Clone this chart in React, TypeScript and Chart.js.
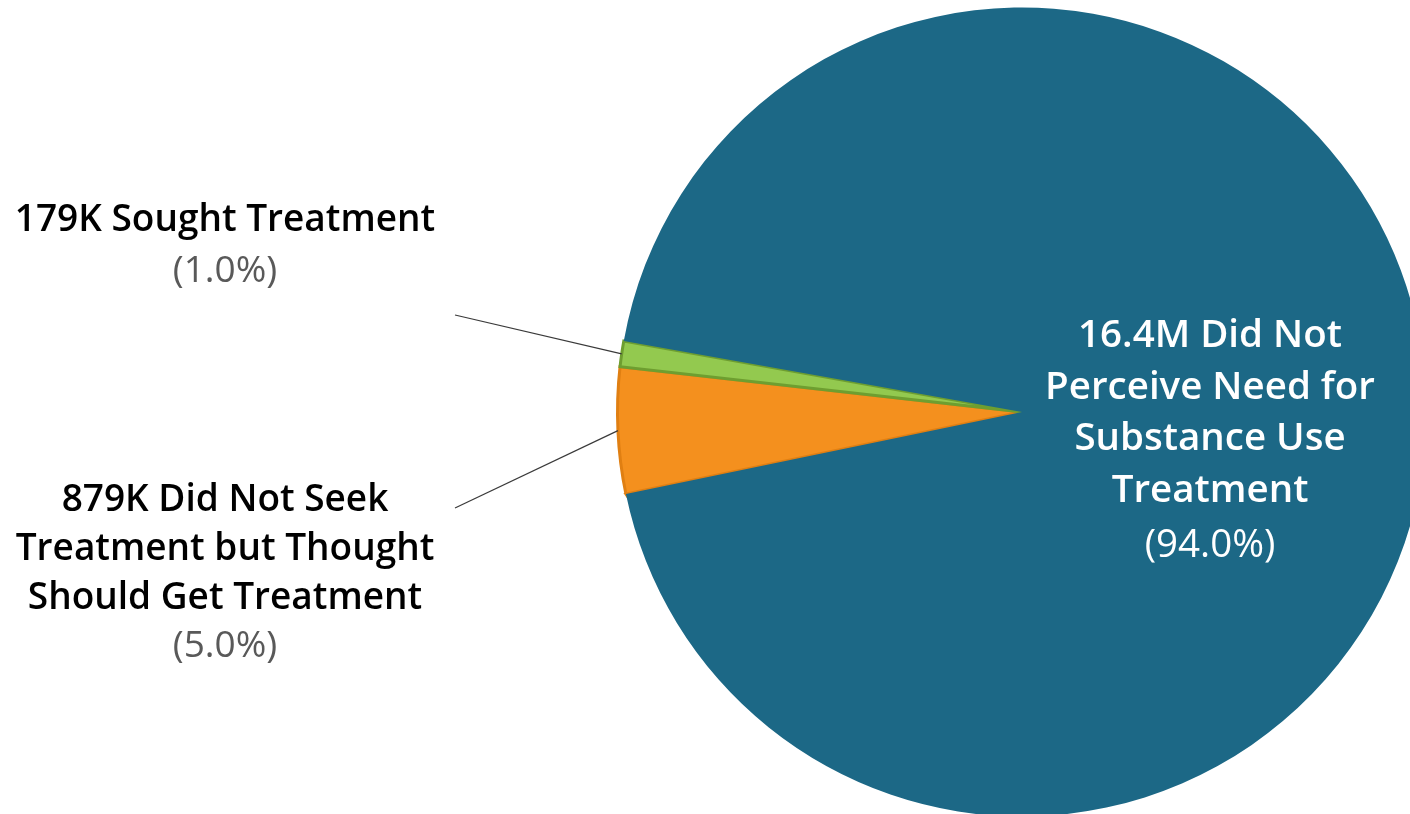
import React, { useEffect, useRef } from "react";
import { Chart, registerables } from "chart.js";

Chart.register(...registerables);

const categories = [
  "879K Did Not Seek Treatment but Thought Should Get Treatment",
  "179K Sought Treatment",
  "16.4M Did Not Perceive Need for Substance Use Treatment",
];
const valuesK = [879, 179, 16400];
const percentLabels = ["(5.0%)", "(1.0%)", "(94.0%)"];
const labelLines = [
  ["879K Did Not Seek", "Treatment but Thought", "Should Get Treatment"],
  ["179K Sought Treatment"],
  ["16.4M Did Not", "Perceive Need for", "Substance Use", "Treatment"],
];
const fillColors = ["#F4901E", "#93C94F", "#1C6886"];
const borderColors = ["#E07F12", "#6E9E30", "#1C6886"];
const borderWidths = [3, 3, 0];

const FONT = '"Open Sans", "Noto Sans", sans-serif';

const labelPlugin = {
  id: "sliceLabels",
  afterDraw(chart: any) {
    const ctx = chart.ctx as CanvasRenderingContext2D;
    const meta = chart.getDatasetMeta(0);
    ctx.save();
    const layouts = [
      { x: 225, y: 511, step: 49, pctY: 657, size: 37, color: "#000000", pct: "#595959", leader: true },
      { x: 225, y: 231, step: 51, pctY: 282, size: 37, color: "#000000", pct: "#595959", leader: true },
      { x: 1210, y: 347, step: 51.7, pctY: 557, size: 38.5, color: "#FFFFFF", pct: "#FFFFFF", leader: false },
    ];
    const leaderStarts = [
      [455, 508],
      [455, 315],
    ];
    meta.data.forEach((arc: any, i: number) => {
      const L = layouts[i];
      ctx.textAlign = "center";
      ctx.textBaseline = "alphabetic";
      const lines = labelLines[i];
      ctx.fillStyle = L.color;
      ctx.font = `600 ${L.size}px ${FONT}`;
      lines.forEach((t, k) => ctx.fillText(t, L.x, L.y + k * L.step));
      ctx.fillStyle = L.pct;
      ctx.font = `400 ${L.size}px ${FONT}`;
      ctx.fillText(percentLabels[i], L.x, L.pctY);
      if (L.leader) {
        const mid = (arc.startAngle + arc.endAngle) / 2;
        const r = arc.outerRadius;
        const ex = arc.x + Math.cos(mid) * r;
        const ey = arc.y + Math.sin(mid) * r;
        ctx.strokeStyle = "#3A3A3A";
        ctx.lineWidth = 1.2;
        ctx.beginPath();
        ctx.moveTo(leaderStarts[i][0], leaderStarts[i][1]);
        ctx.lineTo(ex, ey);
        ctx.stroke();
      }
    });
    ctx.restore();
  },
};

export default function App() {
  const ref = useRef<HTMLCanvasElement | null>(null);
  useEffect(() => {
    document.body.style.margin = "0";
    document.body.style.overflow = "hidden";
    const chart = new Chart(ref.current!, {
      type: "pie",
      data: {
        labels: categories,
        datasets: [
          {
            data: valuesK,
            backgroundColor: fillColors,
            borderColor: borderColors,
            borderWidth: borderWidths,
            borderJoinStyle: "miter",
          } as any,
        ],
      },
      options: {
        animation: false,
        responsive: false,
        rotation: 258.3,
        layout: { padding: { left: 616, right: 12, top: 6, bottom: 12 } },
        plugins: { legend: { display: false }, tooltip: { enabled: false } },
      },
      plugins: [labelPlugin],
    });
    return () => chart.destroy();
  }, []);
  return (
    <div style={{ position: "fixed", left: 0, top: 0, width: 1410, height: 814, overflow: "hidden", background: "#fff" }}>
      <canvas ref={ref} width={1440} height={830} style={{ display: "block" }} />
    </div>
  );
}
